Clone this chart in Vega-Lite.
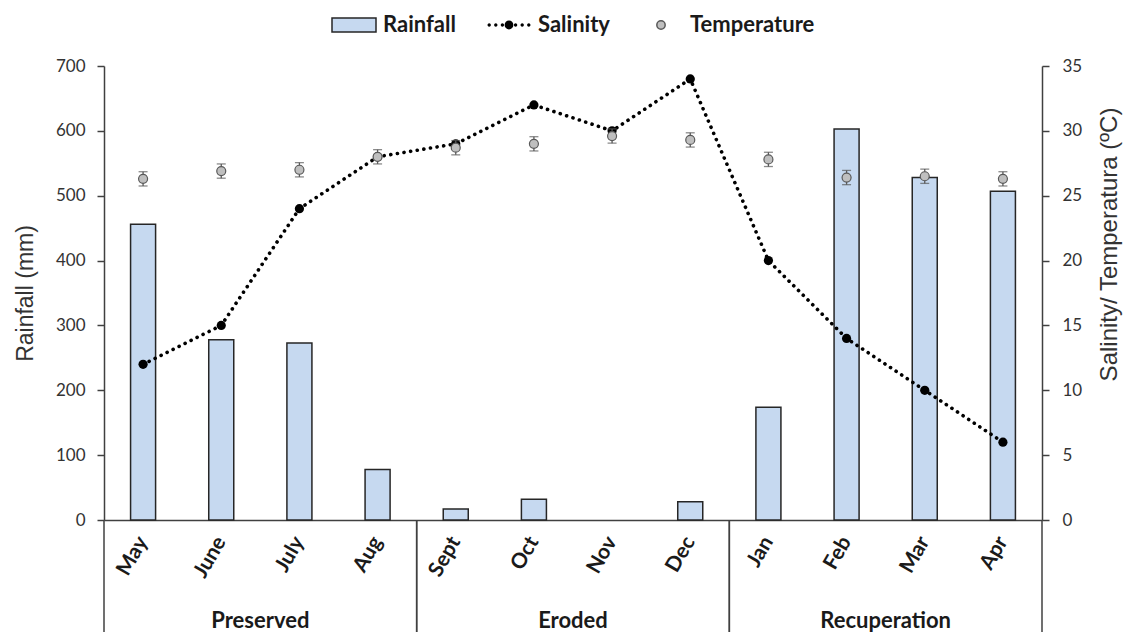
{
  "$schema": "https://vega.github.io/schema/vega-lite/v6.json",
  "width": 938,
  "height": 454,
  "autosize": "none",
  "padding": {"left": 104, "top": 66, "right": 90, "bottom": 112},
  "background": "white",
  "datasets": {
    "months": [
      {"month": "May", "group": "Preserved", "rain": 456, "sal": 12, "temp": 26.3, "err": 0.55},
      {"month": "June", "group": "Preserved", "rain": 278, "sal": 15, "temp": 26.9, "err": 0.55},
      {"month": "July", "group": "Preserved", "rain": 273, "sal": 24, "temp": 27.0, "err": 0.55},
      {"month": "Aug", "group": "Preserved", "rain": 78, "sal": 28, "temp": 28.0, "err": 0.55},
      {"month": "Sept", "group": "Eroded", "rain": 17, "sal": 29, "temp": 28.7, "err": 0.55},
      {"month": "Oct", "group": "Eroded", "rain": 32, "sal": 32, "temp": 29.0, "err": 0.55},
      {"month": "Nov", "group": "Eroded", "rain": null, "sal": 30, "temp": 29.6, "err": 0.55},
      {"month": "Dec", "group": "Eroded", "rain": 28, "sal": 34, "temp": 29.3, "err": 0.55},
      {"month": "Jan", "group": "Recuperation", "rain": 174, "sal": 20, "temp": 27.8, "err": 0.55},
      {"month": "Feb", "group": "Recuperation", "rain": 603, "sal": 14, "temp": 26.4, "err": 0.55},
      {"month": "Mar", "group": "Recuperation", "rain": 528, "sal": 10, "temp": 26.5, "err": 0.55},
      {"month": "Apr", "group": "Recuperation", "rain": 507, "sal": 6, "temp": 26.3, "err": 0.55}
    ],
    "groups": [
      {"group": "Preserved", "first": "May", "mid": "June", "last": "Aug"},
      {"group": "Eroded", "first": "Sept", "mid": "Oct", "last": "Dec"},
      {"group": "Recuperation", "first": "Jan", "mid": "Feb", "last": "Apr"}
    ]
  },
  "config": {
    "view": {"stroke": null},
    "axis": {"domainColor": "#404040", "domainWidth": 1.5, "tickColor": "#404040", "tickWidth": 1.5, "grid": false},
    "legend": {"layout": {"top": {"anchor": "middle"}}}
  },
  "encoding": {
    "x": {
      "field": "month",
      "type": "ordinal",
      "scale": {"domain": ["May","June","July","Aug","Sept","Oct","Nov","Dec","Jan","Feb","Mar","Apr"], "paddingInner": 0, "paddingOuter": 0},
      "axis": {
        "orient": "bottom",
        "title": null,
        "labelAngle": -60,
        "labelFont": "Lato",
        "labelFontWeight": "bold",
        "labelFontSize": 21,
        "labelColor": "#1a1a1a",
        "ticks": false,
        "labelPadding": 18
      }
    }
  },
  "layer": [
    {
      "layer": [
        {
          "data": {"name": "months"},
          "mark": {"type": "bar", "strokeWidth": 1.5, "width": {"band": 0.32}},
          "encoding": {
            "y": {
              "field": "rain",
              "type": "quantitative",
              "scale": {"domain": [0, 700], "nice": false},
              "axis": {
                "orient": "left",
                "title": "Rainfall (mm)",
                "values": [0, 100, 200, 300, 400, 500, 600, 700],
                "tickSize": 7,
                "labelPadding": 12,
                "labelFont": "Lato",
                "labelFontSize": 17,
                "labelColor": "#333333",
                "titleFont": "Liberation Sans",
                "titleFontSize": 23,
                "titleFontWeight": "normal",
                "titleColor": "#333333",
                "titlePadding": 18
              }
            },
            "fill": {
              "datum": "Rainfall",
              "type": "nominal",
              "scale": {"domain": ["Rainfall", "Salinity", "Temperature"], "range": ["#c6d9f0", "#000000", "#bfbfbf"]},
              "legend": {
                "orient": "top",
                "direction": "horizontal",
                "title": null,
                "offset": 30,
                "labelFont": "Lato",
                "labelFontWeight": "bold",
                "labelFontSize": 22,
                "labelColor": "#1a1a1a",
                "symbolSize": 1936,
                "labelOffset": 6,
                "columnPadding": 28,
                "symbolStrokeWidth": 1.5
              }
            },
            "stroke": {
              "datum": "Rainfall",
              "type": "nominal",
              "scale": {"domain": ["Rainfall", "Salinity", "Temperature"], "range": ["#262626", "transparent", "#595959"]}
            }
          }
        },
        {
          "data": {"name": "groups"},
          "mark": {"type": "rule", "stroke": "#404040", "strokeWidth": 1.5},
          "encoding": {
            "x": {"field": "first", "type": "ordinal", "bandPosition": 0, "scale": {"domain": ["May","June","July","Aug","Sept","Oct","Nov","Dec","Jan","Feb","Mar","Apr"], "paddingInner": 0, "paddingOuter": 0}},
            "y": {"datum": 0, "type": "quantitative", "scale": {"domain": [0, 700], "nice": false}},
            "y2": {"datum": -175}
          }
        },
        {
          "data": {"name": "groups"},
          "mark": {"type": "rule", "stroke": "#404040", "strokeWidth": 1.5},
          "encoding": {
            "x": {"field": "last", "type": "ordinal", "bandPosition": 1, "scale": {"domain": ["May","June","July","Aug","Sept","Oct","Nov","Dec","Jan","Feb","Mar","Apr"], "paddingInner": 0, "paddingOuter": 0}},
            "y": {"datum": 0, "type": "quantitative", "scale": {"domain": [0, 700], "nice": false}},
            "y2": {"datum": -175}
          }
        },
        {
          "data": {"name": "groups"},
          "mark": {"type": "text", "font": "Lato", "fontWeight": "bold", "fontSize": 22, "color": "#1a1a1a", "baseline": "alphabetic", "align": "center"},
          "encoding": {
            "x": {"field": "mid", "type": "ordinal", "bandPosition": 1, "scale": {"domain": ["May","June","July","Aug","Sept","Oct","Nov","Dec","Jan","Feb","Mar","Apr"], "paddingInner": 0, "paddingOuter": 0}},
            "y": {"datum": -166, "type": "quantitative", "scale": {"domain": [0, 700], "nice": false}},
            "text": {"field": "group"}
          }
        }
      ]
    },
    {
      "data": {"name": "months"},
      "layer": [
        {
          "mark": {"type": "line", "stroke": "#000000", "strokeWidth": 3.6, "strokeDash": [0.1, 6.6], "strokeCap": "round"},
          "encoding": {
            "y": {
              "field": "sal",
              "type": "quantitative",
              "scale": {"domain": [0, 35], "nice": false},
              "axis": {
                "orient": "right",
                "title": "Salinity/ Temperatura (ºC)",
                "values": [0, 5, 10, 15, 20, 25, 30, 35],
                "tickSize": 7,
                "labelPadding": 13,
                "labelFont": "Lato",
                "labelFontSize": 17,
                "labelColor": "#333333",
                "titleFont": "Liberation Sans",
                "titleFontSize": 24,
                "titleFontWeight": "normal",
                "titleColor": "#333333",
                "titleAngle": 270,
                "titleBaseline": "top",
                "titleY": 178,
                "titlePadding": 16
              }
            }
          }
        },
        {
          "mark": {"type": "point", "filled": true, "size": 85, "opacity": 1},
          "encoding": {
            "y": {"field": "sal", "type": "quantitative", "scale": {"domain": [0, 35], "nice": false}, "title": "Salinity/ Temperatura (ºC)"},
            "fill": {"datum": "Salinity", "type": "nominal"},
            "stroke": {"datum": "Salinity", "type": "nominal"}
          }
        },
        {
          "mark": {"type": "errorbar", "color": "#595959", "thickness": 1.3, "ticks": {"size": 9, "thickness": 1.3, "color": "#595959"}},
          "encoding": {
            "y": {"field": "temp", "type": "quantitative", "scale": {"domain": [0, 35], "nice": false}, "title": "Salinity/ Temperatura (ºC)"},
            "yError": {"field": "err"}
          }
        },
        {
          "mark": {"type": "point", "filled": true, "size": 2244, "opacity": 1, "strokeWidth": 1.2},
          "encoding": {
            "y": {"field": "temp", "type": "quantitative", "scale": {"domain": [0, 35], "nice": false}, "title": "Salinity/ Temperatura (ºC)"},
            "fill": {"datum": "Temperature", "type": "nominal"},
            "stroke": {"datum": "Temperature", "type": "nominal"},
            "shape": {
              "datum": "Temperature",
              "type": "nominal",
              "scale": {
                "domain": ["Rainfall", "Salinity", "Temperature"],
                "range": [
                  "M-1,-0.32H1V0.32H-1Z",
                  "M-0.975,0A0.075,0.075,0,1,1,-0.825,0A0.075,0.075,0,1,1,-0.975,0ZM-0.675,0A0.075,0.075,0,1,1,-0.525,0A0.075,0.075,0,1,1,-0.675,0ZM-0.375,0A0.075,0.075,0,1,1,-0.225,0A0.075,0.075,0,1,1,-0.375,0ZM-0.2,0A0.2,0.2,0,1,1,0.2,0A0.2,0.2,0,1,1,-0.2,0ZM0.225,0A0.075,0.075,0,1,1,0.375,0A0.075,0.075,0,1,1,0.225,0ZM0.525,0A0.075,0.075,0,1,1,0.675,0A0.075,0.075,0,1,1,0.525,0ZM0.825,0A0.075,0.075,0,1,1,0.975,0A0.075,0.075,0,1,1,0.825,0Z",
                  "M-0.19,0A0.19,0.19,0,1,1,0.19,0A0.19,0.19,0,1,1,-0.19,0Z"
                ]
              }
            }
          }
        }
      ]
    }
  ],
  "resolve": {"scale": {"y": "independent"}}
}
